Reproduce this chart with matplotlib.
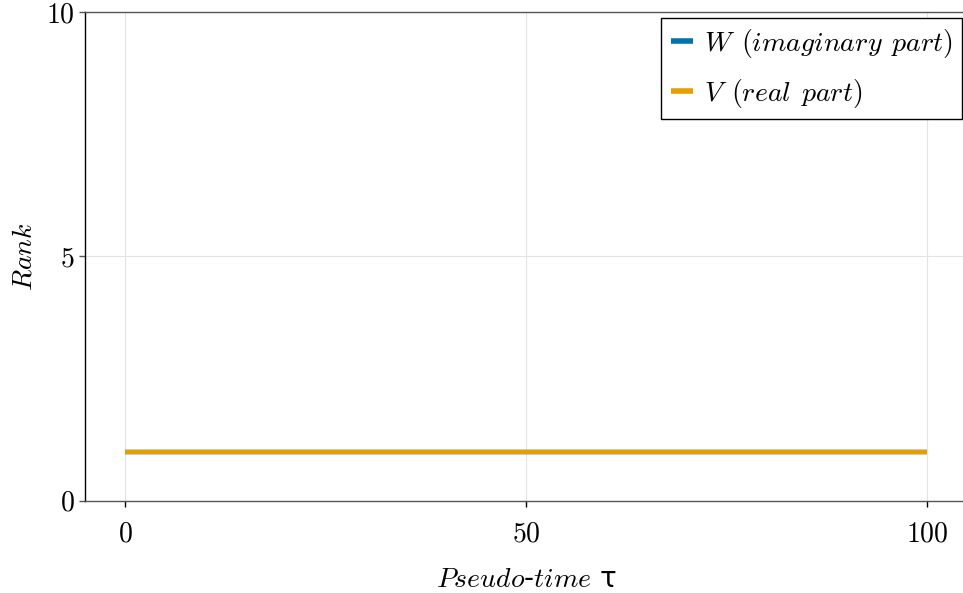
import numpy as np
import matplotlib
matplotlib.use("Agg")
import matplotlib.pyplot as plt

# rank of the two factors over pseudo-time
tau = [0, 100]
rank_W = [1, 1]
rank_V = [1, 1]

x_ticks = [0, 50, 100]
y_ticks = [0, 5, 10]

blue = '#0072B2'
orange = '#E69F00'

plt.rcParams['mathtext.fontset'] = 'cm'
plt.rcParams['font.family'] = ['cmr10', 'DejaVu Sans']
plt.rcParams['axes.formatter.use_mathtext'] = True
plt.rcParams['font.size'] = 20

fig = plt.figure(figsize=(9.63, 5.93), dpi=100)
ax = fig.add_axes([85 / 963, 1 - 500.7 / 593, 882 / 963, 488.7 / 593])

ax.plot(tau, rank_W, color=blue, lw=3.2, label=r'$W\;\,(imaginary\;\,part)$', solid_capstyle='butt')
ax.plot(tau, rank_V, color=orange, lw=3.2, label=r'$V\;\,(real\;\,part)$', solid_capstyle='butt')

ax.set_xlim(-5, 105)
ax.set_ylim(0, 10)
ax.set_xticks(x_ticks)
ax.set_xticklabels(['$%d$' % t for t in x_ticks])
ax.set_yticks(y_ticks)
ax.set_yticklabels(['$%d$' % t for t in y_ticks])

ax.grid(True, color='#e3e3e3', lw=0.8)
ax.set_axisbelow(True)

ax.spines['right'].set_visible(False)
ax.spines['left'].set_color('black')
ax.spines['top'].set_color('#555555')
ax.spines['bottom'].set_color('#555555')
for s in ['left', 'top', 'bottom']:
    ax.spines[s].set_linewidth(1.0)

ax.tick_params(axis='x', direction='out', length=4.5, width=1, color='black', pad=10)
ax.tick_params(axis='y', direction='out', length=4.5, width=1, color='#555555', pad=3)

ax.set_xlabel('$Pseudo$-$time$ τ', labelpad=13, fontfamily='DejaVu Sans')
ax.set_ylabel('$Rank$', labelpad=6)

leg = ax.legend(loc='upper right', fancybox=False, edgecolor='black', framealpha=1,
                borderaxespad=0, handlelength=0.8, handletextpad=0.4,
                labelspacing=0.6, borderpad=0.33, bbox_to_anchor=(0.9943, 0.988))
leg.get_frame().set_linewidth(1.0)
for h in leg.get_lines():
    h.set_linewidth(4)

fig.savefig('out.png', dpi=100)
